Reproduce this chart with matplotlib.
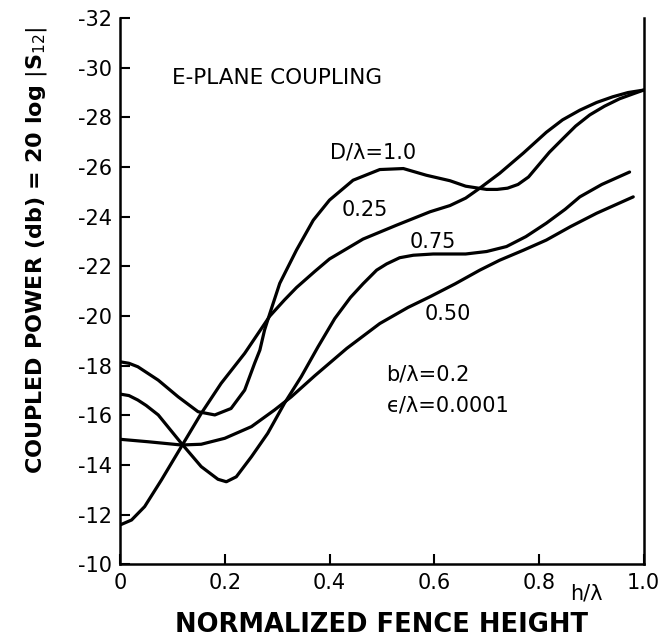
import matplotlib
matplotlib.use("Agg")
import matplotlib.pyplot as plt

# ---- data ----
x_d100 = [0.0, 0.017, 0.034, 0.073, 0.111, 0.149, 0.181, 0.212, 0.238, 0.257, 0.267, 0.276, 0.286,
          0.305, 0.337, 0.369, 0.40, 0.445, 0.496, 0.541, 0.585, 0.63, 0.66, 0.70, 0.72, 0.74,
          0.76, 0.78, 0.80, 0.82, 0.846, 0.87, 0.897, 0.925, 0.954, 0.98, 1.0]
y_d100 = [-18.16, -18.1, -17.96, -17.42, -16.75, -16.15, -16.02, -16.28, -17.02, -18.1, -18.63,
          -19.44, -20.1, -21.32, -22.66, -23.86, -24.67, -25.47, -25.9, -25.94, -25.67, -25.45,
          -25.23, -25.1, -25.1, -25.15, -25.3, -25.6, -26.1, -26.6, -27.15, -27.65, -28.1,
          -28.45, -28.75, -28.95, -29.1]

x_d025 = [0.0, 0.022, 0.047, 0.079, 0.117, 0.155, 0.193, 0.238, 0.286, 0.314, 0.337, 0.372, 0.40,
          0.464, 0.528, 0.592, 0.63, 0.66, 0.687, 0.725, 0.77, 0.814, 0.845, 0.878, 0.91, 0.941,
          0.97, 1.0]
y_d025 = [-11.59, -11.79, -12.33, -13.4, -14.74, -16.08, -17.29, -18.5, -20.0, -20.65, -21.15,
          -21.8, -22.3, -23.1, -23.66, -24.2, -24.45, -24.75, -25.15, -25.75, -26.56, -27.4,
          -27.9, -28.29, -28.6, -28.83, -29.0, -29.1]

x_d075 = [0.0, 0.017, 0.034, 0.05, 0.073, 0.117, 0.155, 0.187, 0.203, 0.222, 0.251, 0.282, 0.314,
          0.346, 0.378, 0.41, 0.44, 0.464, 0.49, 0.509, 0.534, 0.56, 0.598, 0.66, 0.70, 0.738,
          0.775, 0.814, 0.85, 0.878, 0.92, 0.973]
y_d075 = [-16.86, -16.8, -16.62, -16.4, -16.02, -14.88, -13.94, -13.43, -13.33, -13.53, -14.34,
          -15.28, -16.49, -17.56, -18.76, -19.9, -20.75, -21.3, -21.85, -22.1, -22.35, -22.45,
          -22.5, -22.5, -22.6, -22.8, -23.2, -23.74, -24.3, -24.8, -25.3, -25.8]

x_d050 = [0.0, 0.054, 0.117, 0.155, 0.2, 0.251, 0.295, 0.327, 0.372, 0.433, 0.496, 0.55, 0.592,
          0.64, 0.687, 0.725, 0.77, 0.814, 0.86, 0.91, 0.98]
y_d050 = [-15.04, -14.94, -14.81, -14.84, -15.08, -15.55, -16.22, -16.75, -17.6, -18.7, -19.7,
          -20.35, -20.78, -21.3, -21.85, -22.25, -22.65, -23.06, -23.6, -24.14, -24.8]

x_ticks = [0.0, 0.2, 0.4, 0.6, 0.8, 1.0]
x_ticklabels = ["0", "0.2", "0.4", "0.6", "0.8", "1.0"]
y_ticks = [-10, -12, -14, -16, -18, -20, -22, -24, -26, -28, -30, -32]
y_ticklabels = ["-10", "-12", "-14", "-16", "-18", "-20", "-22", "-24", "-26", "-28", "-30", "-32"]

plt.rcParams['font.family'] = ['DejaVu Sans']

fig = plt.figure(figsize=(6.65, 6.44), dpi=100)
ax = fig.add_axes([0.1805, 0.1235, 0.7875, 0.8485])

lw = 2.3
for xs, ys in [(x_d100, y_d100), (x_d025, y_d025), (x_d075, y_d075), (x_d050, y_d050)]:
    ax.plot(xs, ys, color='black', lw=lw, solid_capstyle='round', solid_joinstyle='round')

ax.set_xlim(0, 1.0)
ax.set_ylim(-10, -32)
ax.set_xticks(x_ticks)
ax.set_xticklabels(x_ticklabels)
ax.set_yticks(y_ticks)
ax.set_yticklabels(y_ticklabels)
ax.tick_params(direction='in', length=7, width=1.5, labelsize=15, pad=6)

ax.spines['top'].set_visible(False)
for s in ['left', 'bottom', 'right']:
    ax.spines[s].set_linewidth(1.8)

ax.set_xlabel("NORMALIZED FENCE HEIGHT", fontsize=18.5, fontweight='bold', labelpad=14)
ax.set_ylabel("COUPLED POWER (db) = 20 log $|$S$_{12}|$", fontsize=16, fontweight='bold')
ax.yaxis.set_label_coords(-0.135, 0.575)

ax.text(0.10, -29.6, "E-PLANE COUPLING", fontsize=15.5, va='center', ha='left')
ax.text(0.40, -26.6, "D/λ=1.0", fontsize=15, va='center', ha='left')
ax.text(0.423, -24.27, "0.25", fontsize=15, va='center', ha='left')
ax.text(0.553, -23.0, "0.75", fontsize=15, va='center', ha='left')
ax.text(0.582, -20.08, "0.50", fontsize=15, va='center', ha='left')
ax.text(0.509, -17.63, "b/λ=0.2", fontsize=15, va='center', ha='left')
ax.text(0.509, -16.42, "ϵ/λ=0.0001", fontsize=15, va='center', ha='left')
ax.text(0.89, -8.85, "h/λ", fontsize=15, va='center', ha='center')

fig.savefig("out.png", dpi=100)
